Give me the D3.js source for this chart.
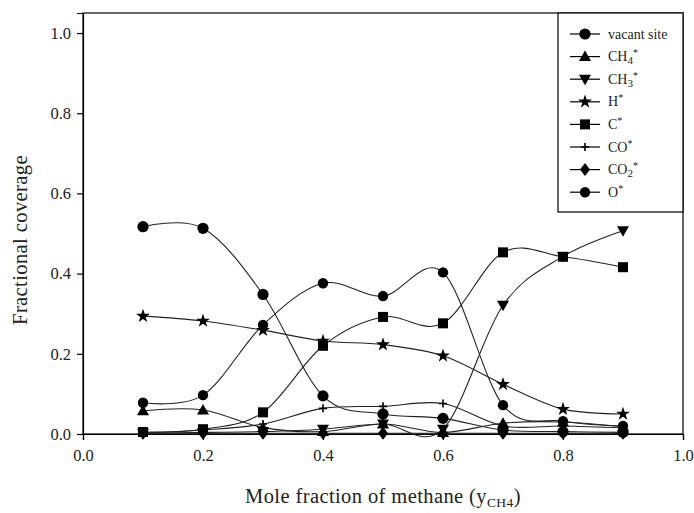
<!DOCTYPE html>
<html><head><meta charset="utf-8">
<script src="https://cdn.jsdelivr.net/npm/d3@7"></script>
<style>body{margin:0;background:#fff}svg{display:block}</style>
</head><body>
<svg id="c" width="694" height="513"></svg>
<script>
const xValues = [0.1, 0.2, 0.3, 0.4, 0.5, 0.6, 0.7, 0.8, 0.9];
const vacantSite = [0.517, 0.513, 0.348, 0.095, 0.050, 0.039, 0.010, 0.006, 0.004];
const ch4 = [0.058, 0.060, 0.016, 0.006, 0.025, 0.004, 0.027, 0.030, 0.018];
const ch3 = [0.002, 0.004, 0.006, 0.012, 0.025, 0.012, 0.321, 0.443, 0.507];
const hStar = [0.294, 0.282, 0.259, 0.232, 0.223, 0.195, 0.124, 0.062, 0.050];
const cStar = [0.005, 0.012, 0.054, 0.220, 0.292, 0.276, 0.453, 0.442, 0.416];
const coStar = [0.003, 0.010, 0.025, 0.064, 0.069, 0.076, 0.020, 0.020, 0.015];
const co2Star = [0.002, 0.002, 0.002, 0.002, 0.002, 0.002, 0.002, 0.002, 0.002];
const oStar = [0.078, 0.097, 0.272, 0.376, 0.344, 0.403, 0.072, 0.032, 0.020];
const xTicks = [0, 0.2, 0.4, 0.6, 0.8, 1.0];
const yTicks = [0, 0.2, 0.4, 0.6, 0.8, 1.0];

const series = [
  {name: "vacant site", values: vacantSite, sym: "circle"},
  {name: ["CH", "4", "*"], values: ch4, sym: "triUp"},
  {name: ["CH", "3", "*"], values: ch3, sym: "triDown"},
  {name: ["H", "", "*"], values: hStar, sym: "star"},
  {name: ["C", "", "*"], values: cStar, sym: "square"},
  {name: ["CO", "", "*"], values: coStar, sym: "plus"},
  {name: ["CO", "2", "*"], values: co2Star, sym: "diamond"},
  {name: ["O", "", "*"], values: oStar, sym: "circleSmall"}
];

const svg = d3.select("#c");
const font = "'Liberation Serif', 'Times New Roman', serif";
const L = 83, R = 683, T = 13, B = 434;
const x = d3.scaleLinear().domain([0, 1]).range([L, R]);
const y = d3.scaleLinear().domain([0, 1.05]).range([B, T]);

svg.append("rect").attr("x", L).attr("y", T).attr("width", R - L).attr("height", B - T)
  .attr("fill", "none").attr("stroke", "#000").attr("stroke-width", 1.2);

const xAxis = svg.append("g").attr("transform", `translate(0,${B})`)
  .call(d3.axisBottom(x).tickValues(xTicks).tickFormat(d3.format(".1f")).tickSize(6).tickPadding(9));
const yAxis = svg.append("g").attr("transform", `translate(${L},0)`)
  .call(d3.axisLeft(y).tickValues(yTicks).tickFormat(d3.format(".1f")).tickSize(6).tickPadding(6));
[xAxis, yAxis].forEach(a => {
  a.select(".domain").attr("stroke", "#000").attr("stroke-width", 1.2);
  a.selectAll(".tick line").attr("stroke", "#000").attr("stroke-width", 1.2);
  a.selectAll(".tick text").attr("font-family", font).attr("font-size", 16.5).attr("fill", "#222");
});

const xt = svg.append("text").attr("x", 383).attr("y", 503).attr("text-anchor", "middle")
  .attr("font-family", font).attr("font-size", 20.5).attr("letter-spacing", 0.4).attr("fill", "#222");
xt.append("tspan").text("Mole fraction of methane (y");
xt.append("tspan").text("CH4").attr("font-size", 13.5).attr("dy", 4);
xt.append("tspan").text(")").attr("dy", -4);

svg.append("text").attr("transform", "translate(27,240) rotate(-90)").attr("text-anchor", "middle")
  .attr("font-family", font).attr("font-size", 20.5).attr("letter-spacing", 0.4).attr("fill", "#222").text("Fractional coverage");

function drawSym(g, sym, cx, cy) {
  const s = g.append("g").attr("transform", `translate(${cx},${cy})`);
  const star = d3.symbol().type(d3.symbolStar).size(60)();
  switch (sym) {
    case "circle": s.append("circle").attr("r", 5.6).attr("fill", "#000"); break;
    case "circleSmall": s.append("circle").attr("r", 5.2).attr("fill", "#000"); break;
    case "triUp": s.append("path").attr("d", "M0,-6L6,4.5L-6,4.5Z").attr("fill", "#000"); break;
    case "triDown": s.append("path").attr("d", "M0,6L6,-4.5L-6,-4.5Z").attr("fill", "#000"); break;
    case "star": s.append("path").attr("d", star).attr("fill", "#000"); break;
    case "square": s.append("rect").attr("x", -5).attr("y", -5).attr("width", 10).attr("height", 10).attr("fill", "#000"); break;
    case "plus": s.append("path").attr("d", "M-4,0H4M0,-4V4").attr("stroke", "#000").attr("stroke-width", 1.6); break;
    case "diamond": s.append("path").attr("d", "M0,-6.5L5,0L0,6.5L-5,0Z").attr("fill", "#000"); break;
  }
}

const line = d3.line().x(d => x(d[0])).y(d => y(d[1])).curve(d3.curveCardinal.tension(0));
const plot = svg.append("g");
series.forEach(s => {
  const pts = xValues.map((xv, i) => [xv, s.values[i]]);
  plot.append("path").attr("d", line(pts)).attr("fill", "none").attr("stroke", "#222").attr("stroke-width", 1.1);
});
series.forEach(s => {
  xValues.forEach((xv, i) => drawSym(plot, s.sym, x(xv), y(s.values[i])));
});

const lg = svg.append("g");
lg.append("rect").attr("x", 558).attr("y", T).attr("width", R - 558).attr("height", 212 - T)
  .attr("fill", "#fff").attr("stroke", "#000").attr("stroke-width", 1.2);
series.forEach((s, i) => {
  const ly = 34 + i * 22.6;
  lg.append("line").attr("x1", 570).attr("x2", 600).attr("y1", ly).attr("y2", ly).attr("stroke", "#000").attr("stroke-width", 1.2);
  drawSym(lg, s.sym, 585, ly);
  const t = lg.append("text").attr("x", 608).attr("y", ly + 4.5).attr("font-family", font).attr("font-size", 14).attr("fill", "#222");
  if (typeof s.name === "string") { t.text(s.name); }
  else {
    t.append("tspan").text(s.name[0]);
    if (s.name[1]) t.append("tspan").text(s.name[1]).attr("font-size", 11).attr("dy", 3);
    t.append("tspan").text(s.name[2]).attr("font-size", 10).attr("dy", s.name[1] ? -8 : -5);
  }
});
</script>
</body></html>
